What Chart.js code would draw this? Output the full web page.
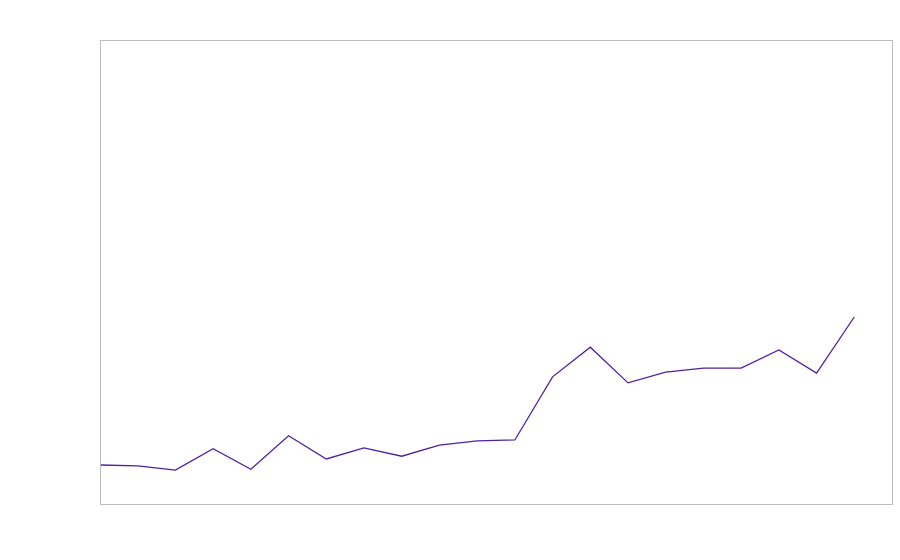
<!DOCTYPE html>
<html>
<head>
<meta charset="utf-8">
<script src="https://cdn.jsdelivr.net/npm/chart.js@4/dist/chart.umd.min.js"></script>
<style>
  html, body { margin: 0; padding: 0; background: #fff; }
  #wrap { width: 900px; height: 560px; }
</style>
</head>
<body>
<div id="wrap"><canvas id="lineChart"></canvas></div>
<script>
// Category slots along x (last slot has no value)
const labels = ['1', '2', '3', '4', '5', '6', '7', '8', '9', '10', '11',
    '12', '13', '14', '15', '16', '17', '18', '19', '20', '21', '22'];

// Series values (0-100 scale)
const values = [8.4, 8.2, 7.3, 11.9, 7.5, 14.7, 9.7, 12.1, 10.3, 12.7, 13.6,
    13.8, 27.4, 33.8, 26.1, 28.4, 29.3, 29.3, 33.2, 28.2, 40.3, null];

const yMin = 0;
const yMax = 100;

// Draw the grey frame round the plot area
const frame = {
    id: 'frame',
    afterDraw(chart) {
        const { ctx, chartArea } = chart;
        ctx.save();
        ctx.strokeStyle = '#bdbdbd';
        ctx.lineWidth = 1;
        ctx.strokeRect(chartArea.left + 0.5, chartArea.top + 0.5,
            chartArea.right - chartArea.left, chartArea.bottom - chartArea.top);
        ctx.restore();
    }
};

new Chart(document.getElementById('lineChart').getContext('2d'), {
    type: 'line',
    data: {
        labels: labels,
        datasets: [{
            data: values,
            borderColor: '#5020a0',
            borderWidth: 1.3,
            pointRadius: 0,
            tension: 0,
            fill: false
        }]
    },
    options: {
        responsive: true,
        maintainAspectRatio: false,
        animation: false,
        layout: { padding: { left: 100, top: 40, right: 8, bottom: 56 } },
        plugins: {
            legend: { display: false },
            tooltip: { enabled: false }
        },
        scales: {
            x: { display: false, offset: false },
            y: { display: false, min: yMin, max: yMax }
        }
    },
    plugins: [frame]
});
</script>
</body>
</html>
